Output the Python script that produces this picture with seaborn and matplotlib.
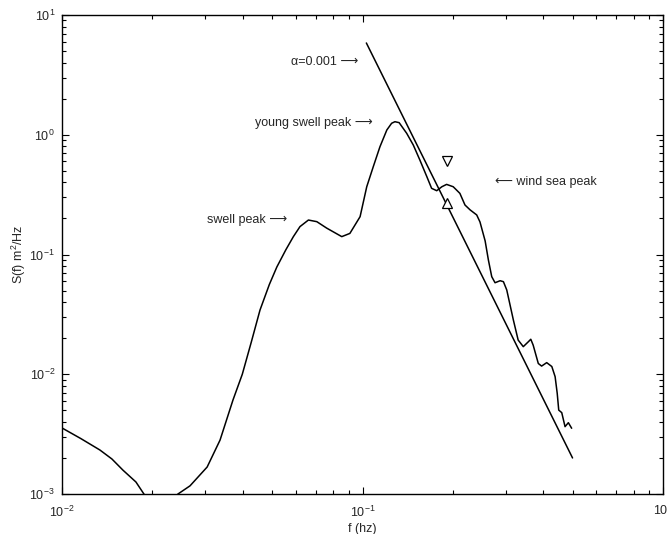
import numpy as np
import pandas as pd
import matplotlib
matplotlib.use("Agg")
import matplotlib.pyplot as plt
import matplotlib.transforms as mtransforms
from matplotlib.ticker import LogLocator, NullFormatter
import seaborn as sns

# spectrum
freq = [0.01000, 0.01156, 0.01337, 0.01466, 0.01596, 0.01762, 0.01932, 0.02188,
        0.02432, 0.02667, 0.03041, 0.03357, 0.03707, 0.03981, 0.04266, 0.04560,
        0.04898, 0.05188, 0.05559, 0.05888, 0.06194, 0.06607, 0.07047, 0.07603,
        0.08531, 0.09078, 0.09817, 0.1033, 0.1086, 0.1143, 0.1205, 0.1250,
        0.1282, 0.1324, 0.1403, 0.1476, 0.1552, 0.1637, 0.1698, 0.1766,
        0.1837, 0.1905, 0.2004, 0.2109, 0.2193, 0.2280, 0.2399, 0.2460,
        0.2559, 0.2624, 0.2692, 0.2761, 0.2871, 0.2944, 0.3020, 0.3177,
        0.3296, 0.3428, 0.3565, 0.3631, 0.3698, 0.3846, 0.3945, 0.4102,
        0.4266, 0.4375, 0.4446, 0.4498, 0.4603, 0.4721, 0.4842, 0.4966]
spec = [0.00356, 0.00290, 0.00233, 0.00196, 0.00158, 0.00126, 0.00089, 0.00076,
        0.00100, 0.00117, 0.00168, 0.00282, 0.00610, 0.0100, 0.0186, 0.0344,
        0.0562, 0.0787, 0.1096, 0.141, 0.171, 0.194, 0.188, 0.166,
        0.141, 0.150, 0.207, 0.368, 0.541, 0.794, 1.096, 1.247,
        1.285, 1.262, 1.028, 0.820, 0.615, 0.447, 0.357, 0.341,
        0.368, 0.385, 0.368, 0.324, 0.259, 0.236, 0.214, 0.187,
        0.130, 0.0899, 0.0653, 0.0581, 0.0604, 0.0593, 0.0506, 0.0284,
        0.0193, 0.0170, 0.0187, 0.0196, 0.0175, 0.0123, 0.0117, 0.0125,
        0.0116, 0.00955, 0.00693, 0.00502, 0.00478, 0.00365, 0.00394, 0.00354]

# f^-5 reference line (alpha = 0.001), end points
line_f = [0.103, 0.500]
line_S = [5.84, 0.0020]

# wind-sea peak markers
tri_down_f, tri_down_S = [0.191], [0.60]
tri_up_f, tri_up_S = [0.191], [0.27]

labels = ["\u03b1=0.001 \u27f6", "young swell peak \u27f6", "swell peak \u27f6",
          "\u27f5 wind sea peak"]
label_f = [0.0966, 0.1084, 0.0561, 0.276]
label_S = [4.06, 1.25, 0.194, 0.403]
label_ha = ["right", "right", "right", "left"]

xtick_vals = [1e-2, 1e-1, 1e0]
xtick_text = ["10$^{-2}$", "10$^{-1}$", "10"]
ytick_vals = [1e-3, 1e-2, 1e-1, 1e0, 1e1]
ytick_text = ["10$^{-3}$", "10$^{-2}$", "10$^{-1}$", "10$^{0}$", "10$^{1}$"]

sns.set_style("ticks")
plt.rcParams["font.family"] = ["Liberation Sans", "DejaVu Sans"]
plt.rcParams["mathtext.fontset"] = "custom"
plt.rcParams["mathtext.rm"] = "Liberation Sans"
plt.rcParams["mathtext.it"] = "Liberation Sans:italic"

fig = plt.figure(figsize=(6.68, 5.34), dpi=100)
ax = fig.add_axes([62 / 668, 1 - 494 / 534, 601 / 668, 479 / 534])

df = pd.DataFrame({"f": freq, "S": spec})
sns.lineplot(data=df, x="f", y="S", ax=ax, color="black", lw=1.1,
             sort=False, estimator=None)
dl = pd.DataFrame({"f": line_f, "S": line_S})
sns.lineplot(data=dl, x="f", y="S", ax=ax, color="black", lw=1.1,
             sort=False, estimator=None)
ax.plot(tri_down_f, tri_down_S, marker="v", ms=7, mfc="white", mec="black",
        mew=0.9, ls="none")
ax.plot(tri_up_f, tri_up_S, marker="^", ms=7, mfc="white", mec="black",
        mew=0.9, ls="none")

ax.set_xscale("log")
ax.set_yscale("log")
ax.set_xlim(1e-2, 1e0)
ax.set_ylim(1e-3, 1e1)

for t, x, y, ha in zip(labels, label_f, label_S, label_ha):
    ax.text(x, y, t, ha=ha, va="center", fontsize=9)

ax.set_xlabel("f (hz)", fontsize=9, labelpad=2)
ax.set_ylabel("S(f) m$^2$/Hz", fontsize=9, labelpad=1)

ax.set_xticks(xtick_vals, labels=xtick_text)
ax.set_yticks(ytick_vals, labels=ytick_text)
ax.xaxis.set_minor_locator(LogLocator(base=10, subs=np.arange(2, 10), numticks=20))
ax.yaxis.set_minor_locator(LogLocator(base=10, subs=np.arange(2, 10), numticks=20))
ax.xaxis.set_minor_formatter(NullFormatter())
ax.yaxis.set_minor_formatter(NullFormatter())
ax.set_xlim(1e-2, 1e0)
ax.set_ylim(1e-3, 1e1)
ax.tick_params(which="both", direction="in", top=True, right=True,
               labelsize=9, width=0.8, color="black")
ax.tick_params(which="major", length=5)
ax.tick_params(which="minor", length=3)
ax.tick_params(axis="x", which="major", pad=8)
ax.tick_params(axis="y", which="major", pad=5)
for s in ax.spines.values():
    s.set_linewidth(1.0)
    s.set_color("black")
ax.grid(False)

last = ax.get_xticklabels()[-1]
last.set_horizontalalignment("right")
last.set_transform(last.get_transform() +
                   mtransforms.ScaledTranslation(4 / 100, 0, fig.dpi_scale_trans))

fig.savefig("out.png", dpi=100)
